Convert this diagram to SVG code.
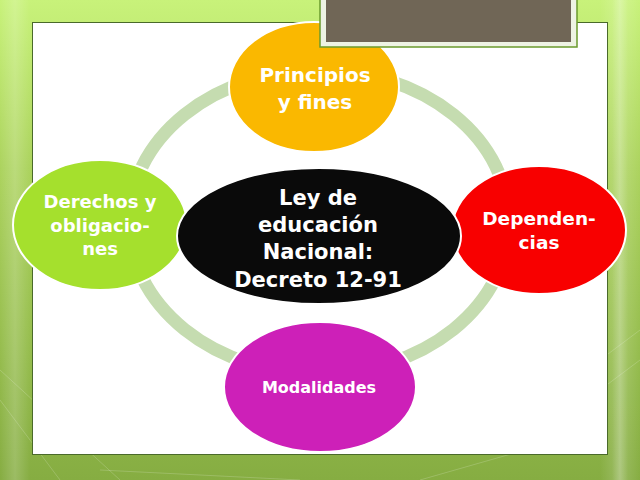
<svg xmlns="http://www.w3.org/2000/svg" width="640" height="480" viewBox="0 0 640 480">
<defs>
<linearGradient id="bg" x1="0" y1="0" x2="0" y2="1">
<stop offset="0" stop-color="#c8f27a"/>
<stop offset="0.35" stop-color="#acd35e"/>
<stop offset="1" stop-color="#86ad42"/>
</linearGradient>
<linearGradient id="band" x1="0" y1="0" x2="1" y2="0">
<stop offset="0" stop-color="#ffffff" stop-opacity="0"/>
<stop offset="0.5" stop-color="#ffffff" stop-opacity="0.18"/>
<stop offset="1" stop-color="#ffffff" stop-opacity="0"/>
</linearGradient>
</defs>
<style>
.node{stroke:#ffffff;stroke-width:2}
.lbl{font-family:"DejaVu Sans","Liberation Sans",sans-serif;font-weight:bold;fill:#ffffff;text-anchor:middle}
</style>
<g id="background">
<rect x="0" y="0" width="640" height="480" fill="url(#bg)"/>
<rect x="0" y="0" width="30" height="480" fill="url(#band)"/>
<rect x="600" y="0" width="40" height="480" fill="url(#band)"/>
<rect x="612" y="0" width="16" height="480" fill="url(#band)"/>
<g stroke="#ffffff" stroke-opacity="0.18" stroke-width="1" fill="none">
<path d="M0 370 L120 480"/>
<path d="M0 400 L60 480"/>
<path d="M100 470 L300 480"/>
<path d="M560 420 L640 360"/>
<path d="M600 360 L640 330"/>
<path d="M420 480 L560 440"/>
</g>
<rect x="32.5" y="22.5" width="575" height="432" fill="#ffffff" stroke="#4a6a2a" stroke-width="1"/>
</g>
<g id="connectors">
<ellipse cx="319" cy="222" rx="190" ry="152" fill="none" stroke="#c5dcb0" stroke-width="13"/>
</g>
<g id="node-principios">
<ellipse class="node" cx="314" cy="87" rx="85" ry="65" fill="#fab800"/>
<text class="lbl" x="315" y="82" font-size="20">Principios</text>
<text class="lbl" x="315" y="109" font-size="20">y fines</text>
</g>
<g id="title-box">
<rect x="320" y="-2" width="257" height="49" fill="#eef3e4" stroke="#6a9a2c" stroke-width="1.5"/>
<rect x="326" y="-2" width="245" height="44" fill="#706656"/>
</g>
<g id="node-derechos">
<ellipse class="node" cx="100" cy="225" rx="87" ry="65" fill="#a5e02d"/>
<text class="lbl" x="100" y="208" font-size="18">Derechos y</text>
<text class="lbl" x="100" y="232" font-size="18">obligacio-</text>
<text class="lbl" x="100" y="255" font-size="18">nes</text>
</g>
<g id="node-dependencias">
<ellipse class="node" cx="539" cy="230" rx="87" ry="64" fill="#f80000"/>
<text class="lbl" x="539" y="225" font-size="18.5">Dependen-</text>
<text class="lbl" x="539" y="249" font-size="18.5">cias</text>
</g>
<g id="node-modalidades">
<ellipse class="node" cx="320" cy="387" rx="96" ry="65" fill="#cd20b8"/>
<text class="lbl" x="319" y="393" font-size="16">Modalidades</text>
</g>
<g id="node-ley">
<ellipse class="node" cx="319" cy="236" rx="142" ry="68" fill="#0a0a0a"/>
<text class="lbl" x="318" y="205" font-size="21">Ley de</text>
<text class="lbl" x="318" y="232" font-size="21">educación</text>
<text class="lbl" x="318" y="259" font-size="21">Nacional:</text>
<text class="lbl" x="318" y="287" font-size="21">Decreto 12-91</text>
</g>
</svg>
